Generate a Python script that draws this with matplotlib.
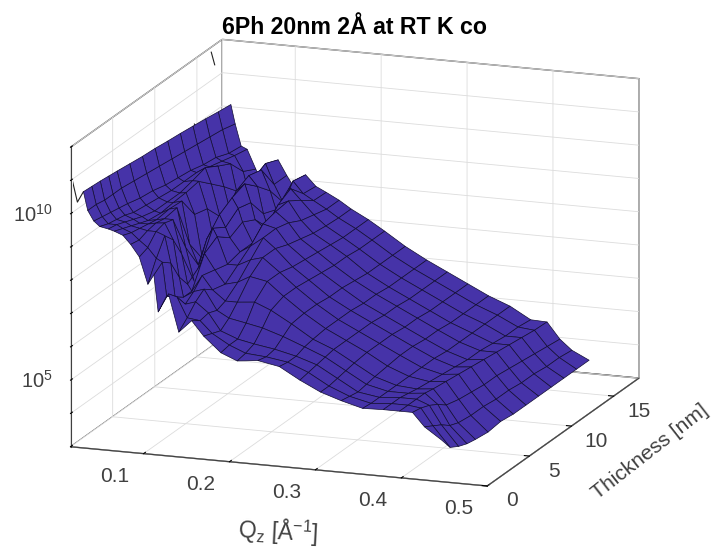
import matplotlib
matplotlib.use("Agg")
import matplotlib.pyplot as plt
from mpl_toolkits.mplot3d import proj3d
import numpy as np

plt.rcParams['font.family'] = ['Liberation Sans', 'DejaVu Sans']
plt.rcParams['mathtext.default'] = 'regular'

# values
qz = [.030, .035, .042, .049, .059, .066, .076, .085, .095, .105, .112, .117, .129, .141, .156,
      .170, .190, .209, .233, .258, .282, .306, .330, .355, .379, .398, .413, .427, .447]
thickness = [0, 1, 2, 3, 4, 5.5, 7, 8.5, 10, 11.5, 13, 14.5, 16, 17.5]

# log10 of the intensity, one list per thickness
t00 = [10.7, 10.15, 9.85, 9.7, 9.65, 9.6, 9.5, 9.25, 8.9, 8.1, 8.4, 7.3, 7.87, 6.75, 7.13, 6.7, 6.25, 6.05, 6.12, 6.0, 5.65, 5.35, 5.15, 4.98, 5.0, 5.0, 5.0, 4.6, 4.25]
t01 = [10.68, 10.15, 9.8, 9.6, 9.6, 9.5, 9.4, 9.2, 9.0, 8.7, 8.6, 7.6, 7.6, 7.0, 6.95, 6.6, 6.3, 6.1, 6.05, 5.95, 5.7, 5.35, 5.1, 4.95, 5.0, 5.0, 4.95, 4.45, 3.85]
t02 = [10.66, 10.1, 9.75, 9.55, 9.5, 9.4, 9.35, 9.3, 9.3, 9.2, 8.4, 7.4, 7.2, 7.3, 7.0, 6.5, 6.3, 6.2, 6.1, 5.95, 5.75, 5.4, 5.05, 4.95, 5.0, 5.0, 4.85, 4.3, 3.7]
t03 = [10.63, 10.1, 9.7, 9.5, 9.4, 9.3, 9.3, 9.35, 9.38, 8.9, 7.8, 7.2, 7.4, 7.5, 6.9, 6.7, 6.6, 6.5, 6.3, 6.05, 5.8, 5.45, 5.1, 4.95, 4.95, 5.0, 4.7, 4.1, 3.6]
t04 = [10.6, 10.1, 9.65, 9.4, 9.3, 9.2, 9.25, 9.3, 9.3, 8.3, 7.4, 7.2, 7.7, 7.3, 7.0, 7.0, 7.05, 6.85, 6.5, 6.1, 5.85, 5.5, 5.15, 4.95, 4.9, 4.95, 4.5, 4.0, 3.55]
t05 = [10.55, 10.05, 9.55, 9.35, 9.2, 9.15, 9.3, 9.36, 8.2, 7.2, 7.7, 8.06, 7.6, 7.2, 7.3, 7.5, 7.4, 7.0, 6.55, 6.15, 5.85, 5.55, 5.2, 4.95, 4.85, 4.9, 4.4, 3.95, 3.5]
t07 = [10.5, 10.0, 9.5, 9.3, 9.2, 9.2, 9.27, 8.0, 7.4, 8.2, 8.54, 8.3, 7.5, 7.5, 7.7, 7.8, 7.4, 7.0, 6.55, 6.15, 5.85, 5.55, 5.25, 4.95, 4.8, 4.85, 4.35, 3.95, 3.55]
t08 = [10.47, 9.95, 9.4, 9.25, 9.2, 9.23, 8.6, 7.3, 8.0, 8.66, 8.3, 8.0, 7.6, 7.8, 8.09, 7.8, 7.3, 6.95, 6.5, 6.15, 5.85, 5.55, 5.25, 4.95, 4.75, 4.8, 4.3, 3.9, 3.5]
t10 = [10.42, 9.9, 9.35, 9.25, 9.3, 9.3, 8.5, 7.4, 8.3, 8.9, 8.6, 8.2, 7.6, 8.2, 8.1, 7.65, 7.25, 6.9, 6.5, 6.1, 5.8, 5.5, 5.2, 4.9, 4.7, 4.75, 4.3, 3.9, 3.5]
t11 = [10.38, 9.85, 9.3, 9.25, 9.42, 8.95, 8.0, 7.5, 8.8, 9.05, 8.5, 8.0, 7.75, 8.3, 8.0, 7.55, 7.2, 6.85, 6.45, 6.1, 5.8, 5.5, 5.2, 4.9, 4.7, 4.7, 4.25, 3.85, 3.5]
t13 = [10.33, 9.8, 9.2, 9.15, 9.2, 8.6, 7.6, 8.2, 9.0, 8.7, 7.9, 7.5, 8.2, 8.35, 7.8, 7.45, 7.15, 6.85, 6.4, 6.05, 5.75, 5.45, 5.15, 4.9, 4.65, 4.65, 4.2, 3.85, 3.5]
t14 = [10.28, 9.75, 9.15, 9.05, 9.0, 8.2, 7.7, 8.6, 8.9, 8.3, 7.75, 7.7, 8.42, 8.1, 7.7, 7.4, 7.1, 6.8, 6.4, 6.05, 5.75, 5.45, 5.15, 4.9, 4.6, 4.6, 4.15, 3.8, 3.5]
t16 = [10.22, 9.7, 9.0, 8.95, 8.5, 7.8, 8.4, 8.8, 8.2, 7.7, 8.1, 8.35, 8.0, 7.82, 7.6, 7.37, 7.1, 6.8, 6.4, 6.05, 5.75, 5.45, 5.15, 4.9, 4.6, 4.55, 4.1, 3.8, 3.5]
t17 = [10.17, 9.6, 8.95, 8.87, 8.3, 7.9, 8.2, 8.64, 8.2, 7.8, 8.05, 8.27, 7.95, 7.8, 7.6, 7.37, 7.1, 6.8, 6.4, 6.05, 5.75, 5.45, 5.15, 4.9, 4.55, 4.53, 4.05, 3.75, 3.5]

# thin spikes near the low Q wall
spike_a_q = [.016, .022, .030]
spike_a_t = [0.1, 0.1, 0.0]
spike_a_i = [11.0, 10.35, 10.7]
spike_b_q = [.016, .020]
spike_b_t = [16.6, 16.6]
spike_b_i = [11.87, 11.5]
spike_c_q = [.016, .020]
spike_c_t = [14.6, 14.6]
spike_c_i = [10.07, 9.9]

x_ticks = [0.1, 0.2, 0.3, 0.4, 0.5]
x_labels = ['0.1', '0.2', '0.3', '0.4', '0.5']
y_ticks = [0, 5, 10, 15]
y_labels = ['0', '5', '10', '15']
z_ticks = [3, 4, 5, 6, 7, 8, 9, 10, 11, 12]
z_label_pos = [5, 10]
z_labels = [r'$10^{5}$', r'$10^{10}$']

log_i = np.array([t00, t01, t02, t03, t04, t05, t07, t08, t10, t11, t13, t14, t16, t17])
X, Y = np.meshgrid(qz, thickness)

fig = plt.figure(figsize=(7.14, 5.49), dpi=100)
ax = fig.add_axes([-0.0136, 0.008, 1.0, 1.0], projection='3d', proj_type='ortho')
ax.view_init(elev=15, azim=-70)
ax.set_box_aspect((1.43, 1.43, 1.0), zoom=1.237)

ax.plot_surface(X, Y, log_i, rstride=1, cstride=1, color='#4633a8', edgecolor='#120d33',
                linewidth=0.5, shade=False, antialiased=True)
for q, t, i in ((spike_a_q, spike_a_t, spike_a_i), (spike_b_q, spike_b_t, spike_b_i),
                (spike_c_q, spike_c_t, spike_c_i)):
    ax.plot(q, t, i, color='#222222', linewidth=0.8)

ax.set_xlim(0.015, 0.5)
ax.set_ylim(0, 18)
ax.set_zlim(3, 12)
ax.set_xticks(x_ticks)
ax.set_yticks(y_ticks)
ax.set_zticks(z_ticks)
ax.tick_params(labelbottom=False, labelleft=False, label1On=False, label2On=False)
ax.zaxis.set_ticks_position('lower')

for axis in (ax.xaxis, ax.yaxis, ax.zaxis):
    axis.set_pane_color((1, 1, 1, 1))
    axis.pane.set_edgecolor('#555555')
    axis.line.set_color('#404040')
    axis.line.set_linewidth(0.8)
    axis._axinfo['grid']['color'] = '#dcdcdc'
    axis._axinfo['grid']['linewidth'] = 0.6
    axis._axinfo['tick']['inward_factor'] = 0.0
    axis._axinfo['tick']['outward_factor'] = 0.15


def tick_text(q, t, z, lab, **kw):
    # mplot3d puts its own tick labels too far off, so project the spot by hand
    px, py, _ = proj3d.proj_transform(q, t, z, ax.get_proj())
    ax.text2D(px, py, lab, transform=ax.transData, color='#404040', va='center', **kw)


fig.canvas.draw()
for q, lab in zip(x_ticks, x_labels):
    tick_text(q, -3.44, 2.94, lab, ha='center', fontsize=15)
for t, lab in zip(y_ticks, y_labels):
    tick_text(.529, t, 2.62, lab, ha='center', fontsize=15)
for z, lab in zip(z_label_pos, z_labels):
    tick_text(-.006, 0, z - .08, lab, ha='right', fontsize=14.5)

fig.text(354 / 714, 1 - 28 / 549, '6Ph 20nm 2Å at RT K co', fontsize=16.7, fontweight='bold',
         ha='center', va='center')
fig.text(278 / 714, 1 - 532 / 549, r'Q$_z$ [Å$^{-1}$]', fontsize=16.5, color='#404040',
         ha='center', va='center', rotation=-3)
fig.text(650 / 714, 1 - 452 / 549, 'Thickness [nm]', fontsize=15.2, color='#404040',
         ha='center', va='center', rotation=38)
fig.text(684 / 714, 1 - 559 / 549, 'Fi', fontsize=16, family='Liberation Serif', ha='left', va='center')

fig.savefig('out.png', dpi=100)
